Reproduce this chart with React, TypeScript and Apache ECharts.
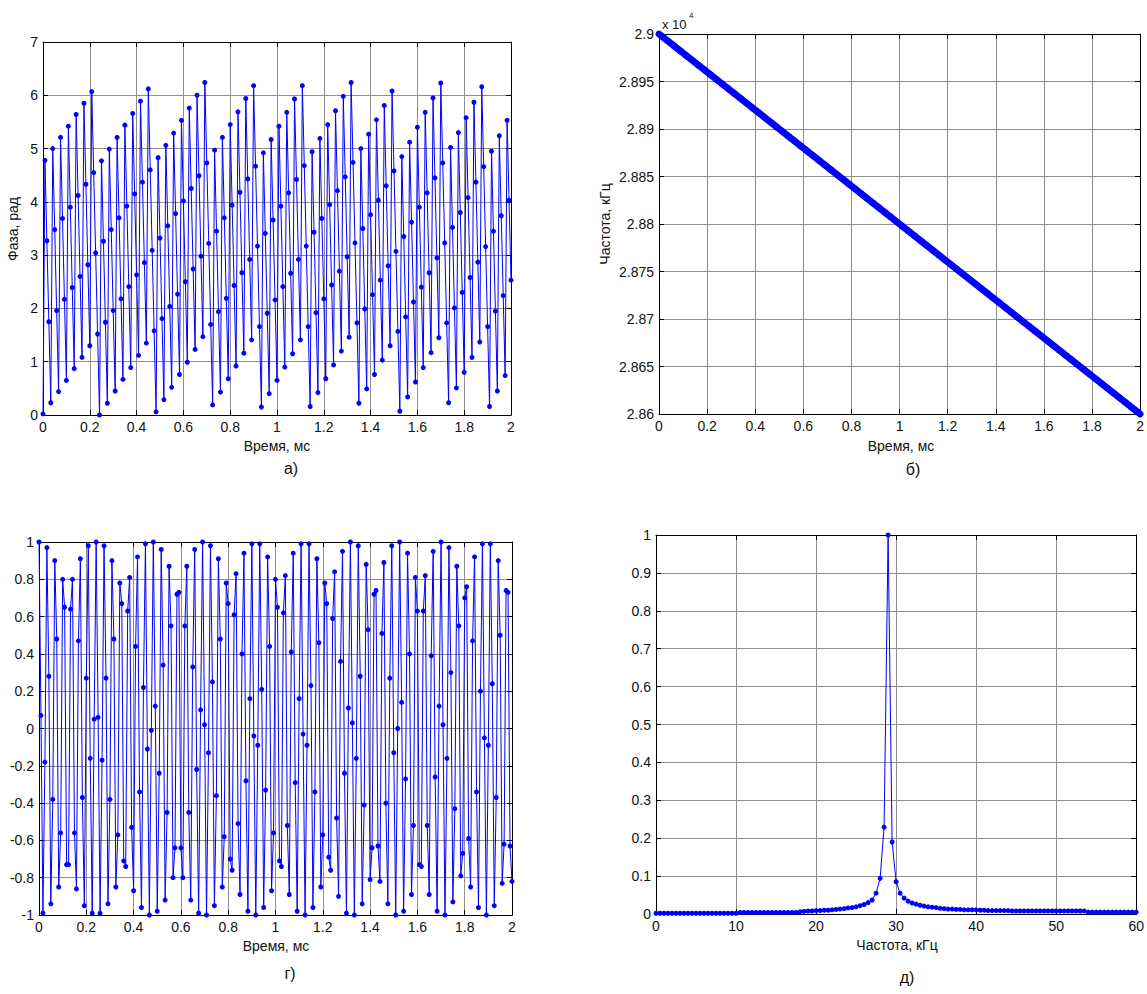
import React, { useEffect, useRef } from "react";
import * as echarts from "echarts";

// sampling step of the time plots (ms) and of the spectrum (kHz)
const DT_MS = 1 / 120;
const DF_KHZ = 0.5;

// а) phase, rad
const PHASE = [
  0.02, 4.78, 3.27, 1.75, 0.23, 5.0, 3.48, 1.96, 0.44, 5.21,
  3.69, 2.17, 0.65, 5.42, 3.9, 2.39, 0.87, 5.64, 4.12, 2.6,
  1.08, 5.85, 4.33, 2.82, 1.3, 6.07, 4.55, 3.04, 1.52, 0.0,
  4.77, 3.26, 1.74, 0.22, 4.99, 3.48, 1.96, 0.45, 5.21, 3.7,
  2.18, 0.67, 5.44, 3.92, 2.41, 0.89, 5.66, 4.15, 2.63, 1.12,
  5.89, 4.37, 2.86, 1.35, 6.12, 4.6, 3.09, 1.58, 0.06, 4.83,
  3.32, 1.81, 0.29, 5.06, 3.55, 2.04, 0.52, 5.29, 3.78, 2.27,
  0.76, 5.53, 4.02, 2.5, 0.99, 5.76, 4.25, 2.74, 1.23, 6.0,
  4.49, 2.98, 1.47, 6.24, 4.73, 3.22, 1.7, 0.19, 4.97, 3.45,
  1.94, 0.43, 5.21, 3.7, 2.19, 0.68, 5.45, 3.94, 2.43, 0.92,
  5.69, 4.18, 2.67, 1.16, 5.94, 4.43, 2.92, 1.41, 6.18, 4.67,
  3.17, 1.66, 0.15, 4.92, 3.41, 1.91, 0.4, 5.17, 3.66, 2.16,
  0.65, 5.42, 3.92, 2.41, 0.9, 5.68, 4.17, 2.66, 1.15, 5.93,
  4.42, 2.92, 1.41, 6.18, 4.68, 3.17, 1.66, 0.16, 4.94, 3.43,
  1.92, 0.42, 5.19, 3.69, 2.18, 0.68, 5.45, 3.95, 2.44, 0.94,
  5.71, 4.21, 2.7, 1.2, 5.98, 4.47, 2.97, 1.46, 6.24, 4.74,
  3.23, 1.73, 0.22, 5.0, 3.5, 1.99, 0.49, 5.27, 3.76, 2.26,
  0.76, 5.54, 4.03, 2.53, 1.03, 5.81, 4.3, 2.8, 1.3, 6.08,
  4.58, 3.07, 1.57, 0.07, 4.85, 3.35, 1.84, 0.34, 5.12, 3.62,
  2.12, 0.62, 5.4, 3.9, 2.4, 0.89, 5.68, 4.17, 2.67, 1.17,
  5.95, 4.45, 2.95, 1.45, 6.23, 4.73, 3.23, 1.73, 0.23, 5.02,
  3.52, 2.01, 0.51, 5.3, 3.8, 2.3, 0.8, 5.58, 4.08, 2.58,
  1.08, 5.87, 4.37, 2.87, 1.37, 6.16, 4.66, 3.16, 1.66, 0.16,
  4.95, 3.45, 1.95, 0.45, 5.24, 3.74, 2.24, 0.74, 5.53, 4.03,
  2.53,
];

// б) instantaneous frequency, kHz
const FREQ = [
  29000, 28998.3, 28996.7, 28995, 28993.3, 28991.7,
  28990, 28988.3, 28986.7, 28985, 28983.3, 28981.7,
  28980, 28978.3, 28976.7, 28975, 28973.3, 28971.7,
  28970, 28968.3, 28966.7, 28965, 28963.3, 28961.7,
  28960, 28958.3, 28956.7, 28955, 28953.3, 28951.7,
  28950, 28948.3, 28946.7, 28945, 28943.3, 28941.7,
  28940, 28938.3, 28936.7, 28935, 28933.3, 28931.7,
  28930, 28928.3, 28926.7, 28925, 28923.3, 28921.7,
  28920, 28918.3, 28916.7, 28915, 28913.3, 28911.7,
  28910, 28908.3, 28906.7, 28905, 28903.3, 28901.7,
  28900, 28898.3, 28896.7, 28895, 28893.3, 28891.7,
  28890, 28888.3, 28886.7, 28885, 28883.3, 28881.7,
  28880, 28878.3, 28876.7, 28875, 28873.3, 28871.7,
  28870, 28868.3, 28866.7, 28865, 28863.3, 28861.7,
  28860, 28858.3, 28856.7, 28855, 28853.3, 28851.7,
  28850, 28848.3, 28846.7, 28845, 28843.3, 28841.7,
  28840, 28838.3, 28836.7, 28835, 28833.3, 28831.7,
  28830, 28828.3, 28826.7, 28825, 28823.3, 28821.7,
  28820, 28818.3, 28816.7, 28815, 28813.3, 28811.7,
  28810, 28808.3, 28806.7, 28805, 28803.3, 28801.7,
  28800, 28798.3, 28796.7, 28795, 28793.3, 28791.7,
  28790, 28788.3, 28786.7, 28785, 28783.3, 28781.7,
  28780, 28778.3, 28776.7, 28775, 28773.3, 28771.7,
  28770, 28768.3, 28766.7, 28765, 28763.3, 28761.7,
  28760, 28758.3, 28756.7, 28755, 28753.3, 28751.7,
  28750, 28748.3, 28746.7, 28745, 28743.3, 28741.7,
  28740, 28738.3, 28736.7, 28735, 28733.3, 28731.7,
  28730, 28728.3, 28726.7, 28725, 28723.3, 28721.7,
  28720, 28718.3, 28716.7, 28715, 28713.3, 28711.7,
  28710, 28708.3, 28706.7, 28705, 28703.3, 28701.7,
  28700, 28698.3, 28696.7, 28695, 28693.3, 28691.7,
  28690, 28688.3, 28686.7, 28685, 28683.3, 28681.7,
  28680, 28678.3, 28676.7, 28675, 28673.3, 28671.7,
  28670, 28668.3, 28666.7, 28665, 28663.3, 28661.7,
  28660, 28658.3, 28656.7, 28655, 28653.3, 28651.7,
  28650, 28648.3, 28646.7, 28645, 28643.3, 28641.7,
  28640, 28638.3, 28636.7, 28635, 28633.3, 28631.7,
  28630, 28628.3, 28626.7, 28625, 28623.3, 28621.7,
  28620, 28618.3, 28616.7, 28615, 28613.3, 28611.7,
  28610, 28608.3, 28606.7, 28605, 28603.3, 28601.7,
  28600,
];

// г) signal
const SIGNAL = [
  1.0, 0.07, -0.99, -0.18, 0.97, 0.28, -0.94, -0.38, 0.9, 0.48,
  -0.85, -0.56, 0.8, 0.65, -0.73, -0.73, 0.64, 0.8, -0.56, -0.86,
  0.47, 0.91, -0.37, -0.95, 0.27, 0.98, -0.16, -0.99, 0.05, 1.0,
  0.06, -0.99, -0.17, 0.98, 0.27, -0.94, -0.38, 0.9, 0.48, -0.85,
  -0.57, 0.78, 0.67, -0.71, -0.74, 0.63, 0.81, -0.53, -0.87, 0.44,
  0.92, -0.34, -0.96, 0.22, 0.99, -0.11, -1.0, -0.01, 1.0, 0.12,
  -0.98, -0.24, 0.96, 0.34, -0.92, -0.45, 0.87, 0.55, -0.8, -0.64,
  0.72, 0.73, -0.64, -0.8, 0.55, 0.87, -0.45, -0.92, 0.33, 0.96,
  -0.22, -0.99, 0.1, 1.0, 0.02, -1.0, -0.13, 0.98, 0.25, -0.95,
  -0.36, 0.91, 0.48, -0.85, -0.58, 0.78, 0.67, -0.7, -0.76, 0.61,
  0.83, -0.51, -0.89, 0.4, 0.94, -0.28, -0.98, 0.16, 0.99, -0.04,
  -1.0, -0.09, 0.99, 0.21, -0.96, -0.33, 0.92, 0.44, -0.87, -0.56,
  0.8, 0.65, -0.71, -0.74, 0.62, 0.82, -0.52, -0.89, 0.41, 0.94,
  -0.29, -0.98, 0.16, 0.99, -0.03, -1.0, -0.09, 0.99, 0.23, -0.96,
  -0.34, 0.91, 0.46, -0.85, -0.57, 0.78, 0.67, -0.69, -0.76, 0.59,
  0.84, -0.48, -0.9, 0.36, 0.95, -0.24, -0.99, 0.11, 1.0, 0.03,
  -1.0, -0.16, 0.98, 0.28, -0.94, -0.41, 0.88, 0.53, -0.81, -0.64,
  0.72, 0.74, -0.63, -0.82, 0.51, 0.89, -0.4, -0.94, 0.27, 0.98,
  -0.13, -1.0, 0.0, 1.0, 0.14, -0.98, -0.27, 0.94, 0.4, -0.89,
  -0.52, 0.81, 0.63, -0.73, -0.74, 0.63, 0.82, -0.52, -0.89, 0.39,
  0.95, -0.26, -0.98, 0.12, 1.0, 0.02, -1.0, -0.16, 0.97, 0.3,
  -0.93, -0.43, 0.87, 0.55, -0.79, -0.67, 0.7, 0.76, -0.59, -0.85,
  0.47, 0.92, -0.34, -0.96, 0.2, 0.99, -0.05, -1.0, -0.09, 0.99,
  0.24, -0.95, -0.37, 0.9, 0.5, -0.83, -0.62, 0.74, 0.73, -0.63,
  -0.82,
];

// д) normalized spectrum
const SPECTRUM = [
  0.002, 0.002, 0.002, 0.002, 0.002, 0.002, 0.002, 0.002, 0.002, 0.002,
  0.002, 0.002, 0.002, 0.002, 0.002, 0.002, 0.002, 0.002, 0.002, 0.002,
  0.002, 0.004, 0.004, 0.004, 0.004, 0.004, 0.004, 0.004, 0.004, 0.004,
  0.004, 0.004, 0.004, 0.004, 0.004, 0.004, 0.006, 0.007, 0.008, 0.008,
  0.009, 0.009, 0.01, 0.01, 0.011, 0.012, 0.013, 0.014, 0.016, 0.017,
  0.019, 0.022, 0.025, 0.03, 0.037, 0.055, 0.094, 0.229, 1.0, 0.19,
  0.085, 0.055, 0.042, 0.034, 0.029, 0.026, 0.023, 0.021, 0.019, 0.018,
  0.017, 0.015, 0.014, 0.013, 0.013, 0.012, 0.012, 0.011, 0.011, 0.011,
  0.011, 0.01, 0.01, 0.009, 0.009, 0.009, 0.009, 0.009, 0.009, 0.008,
  0.008, 0.008, 0.008, 0.008, 0.008, 0.008, 0.008, 0.008, 0.008, 0.008,
  0.008, 0.008, 0.008, 0.008, 0.008, 0.008, 0.008, 0.008, 0.005, 0.005,
  0.005, 0.005, 0.005, 0.005, 0.005, 0.005, 0.005, 0.005, 0.005, 0.005,
  0.005,
];

// axis ranges: [min, max, interval]
const TIME_AXIS = [0, 2, 0.2];
const PHASE_AXIS = [0, 7, 1];
const FREQ_AXIS = [28600, 29000, 50];
const SIGNAL_AXIS = [-1, 1, 0.2];
const SPEC_X_AXIS = [0, 60, 10];
const SPEC_Y_AXIS = [0, 1, 0.1];

const X_TITLES = ["Время, мс", "Время, мс", "Время, мс", "Частота, кГц"];
const Y_TITLES = ["Фаза, рад", "Частота, кГц", "", ""];
const PANEL_LABELS = ["а)", "б)", "г)", "д)"];

const FONT = '"Liberation Sans", Arial, Helvetica, sans-serif';
const BLUE = "#0000ff";

const GRIDS = [
  { left: 43, top: 42, width: 468, height: 373 },
  { left: 659, top: 34, width: 484, height: 380 },
  { left: 39, top: 542, width: 473, height: 373 },
  { left: 656, top: 535, width: 483, height: 379 },
];

const fmt1 = (v: number) => String(Math.round(v * 10) / 10);
const fmtFreq = (v: number) => String(parseFloat((v / 10000).toFixed(4)));
const fmtInt = (v: number) => String(Math.round(v));

function axisPair(kind: "x" | "y", gi: number, range: number[], fmt: (v: number) => string) {
  const common = {
    type: "value",
    gridIndex: gi,
    min: range[0],
    max: range[1],
    interval: range[2],
    axisLine: { show: true, onZero: false, lineStyle: { color: "#000", width: 1 } },
    axisTick: { show: true, inside: true, length: 5, lineStyle: { color: "#000", width: 1 } },
  };
  const primary = {
    ...common,
    position: kind === "x" ? "bottom" : "left",
    axisLabel: {
      show: true,
      margin: 5,
      color: "#111",
      fontSize: 14,
      fontFamily: FONT,
      formatter: fmt,
    },
    splitLine: { show: true, lineStyle: { color: "#8f8f8f", width: 1 } },
  };
  const secondary = {
    ...common,
    position: kind === "x" ? "top" : "right",
    axisLabel: { show: false },
    splitLine: { show: false },
  };
  return [primary, secondary];
}

export default function App() {
  const ref = useRef<HTMLDivElement>(null);

  useEffect(() => {
    if (!ref.current) return;
    const chart = echarts.init(ref.current, undefined, { renderer: "svg" });

    const timeData = (vals: number[]) => vals.map((v, i) => [i * DT_MS, v]);
    const specData = SPECTRUM.map((v, i) => [i * DF_KHZ, v]);

    const xAxes = [
      ...axisPair("x", 0, TIME_AXIS, fmt1),
      ...axisPair("x", 1, TIME_AXIS, fmt1),
      ...axisPair("x", 2, TIME_AXIS, fmt1),
      ...axisPair("x", 3, SPEC_X_AXIS, fmtInt),
    ];
    const yAxes = [
      ...axisPair("y", 0, PHASE_AXIS, fmtInt),
      ...axisPair("y", 1, FREQ_AXIS, fmtFreq),
      ...axisPair("y", 2, SIGNAL_AXIS, fmt1),
      ...axisPair("y", 3, SPEC_Y_AXIS, fmt1),
    ];

    const mkSeries = (gi: number, data: number[][], sym: number, lw: number) => ({
      type: "line",
      xAxisIndex: gi * 2,
      yAxisIndex: gi * 2,
      data,
      symbol: "circle",
      symbolSize: sym,
      showAllSymbol: true,
      clip: false,
      lineStyle: { color: BLUE, width: lw },
      itemStyle: { color: BLUE },
      emphasis: { disabled: true },
      z: 3,
    });

    const textEl = (text: string, x: number, y: number, size: number, rot = 0) => ({
      type: "text",
      x,
      y,
      rotation: rot,
      style: {
        text,
        fill: "#111",
        font: `${size}px ${FONT}`,
        textAlign: "center",
        textVerticalAlign: "middle",
      },
    });

    const graphics: any[] = [];
    const xTitlePos = [
      [277, 446],
      [901, 446],
      [276, 946],
      [897, 945],
    ];
    const yTitlePos = [
      [13, 229],
      [605, 224],
    ];
    const labelPos = [
      [291, 468],
      [913, 469],
      [290, 973],
      [907, 977],
    ];
    X_TITLES.forEach((t, i) => graphics.push(textEl(t, xTitlePos[i][0], xTitlePos[i][1], 14)));
    Y_TITLES.forEach((t, i) => {
      if (t) graphics.push(textEl(t, yTitlePos[i][0], yTitlePos[i][1], 14, Math.PI / 2));
    });
    PANEL_LABELS.forEach((t, i) => graphics.push(textEl(t, labelPos[i][0], labelPos[i][1], 16)));
    // exponent of the б) y-axis
    graphics.push({
      type: "text",
      x: 662,
      y: 24,
      style: { text: "x 10", fill: "#111", font: `13px ${FONT}`, textAlign: "left", textVerticalAlign: "middle" },
    });
    graphics.push({
      type: "text",
      x: 689,
      y: 15,
      style: { text: "4", fill: "#111", font: `8px ${FONT}`, textAlign: "left", textVerticalAlign: "middle" },
    });

    chart.setOption({
      animation: false,
      backgroundColor: "#ffffff",
      grid: GRIDS.map((g) => ({ ...g, containLabel: false })),
      xAxis: xAxes,
      yAxis: yAxes,
      series: [
        mkSeries(0, timeData(PHASE), 5, 1),
        mkSeries(1, timeData(FREQ), 7, 2),
        mkSeries(2, timeData(SIGNAL), 5, 1),
        mkSeries(3, specData, 5, 1),
      ],
      graphic: graphics,
    });

    return () => chart.dispose();
  }, []);

  return (
    <div
      ref={ref}
      style={{ position: "absolute", left: 0, top: 0, width: 1147, height: 994, background: "#fff" }}
    />
  );
}
